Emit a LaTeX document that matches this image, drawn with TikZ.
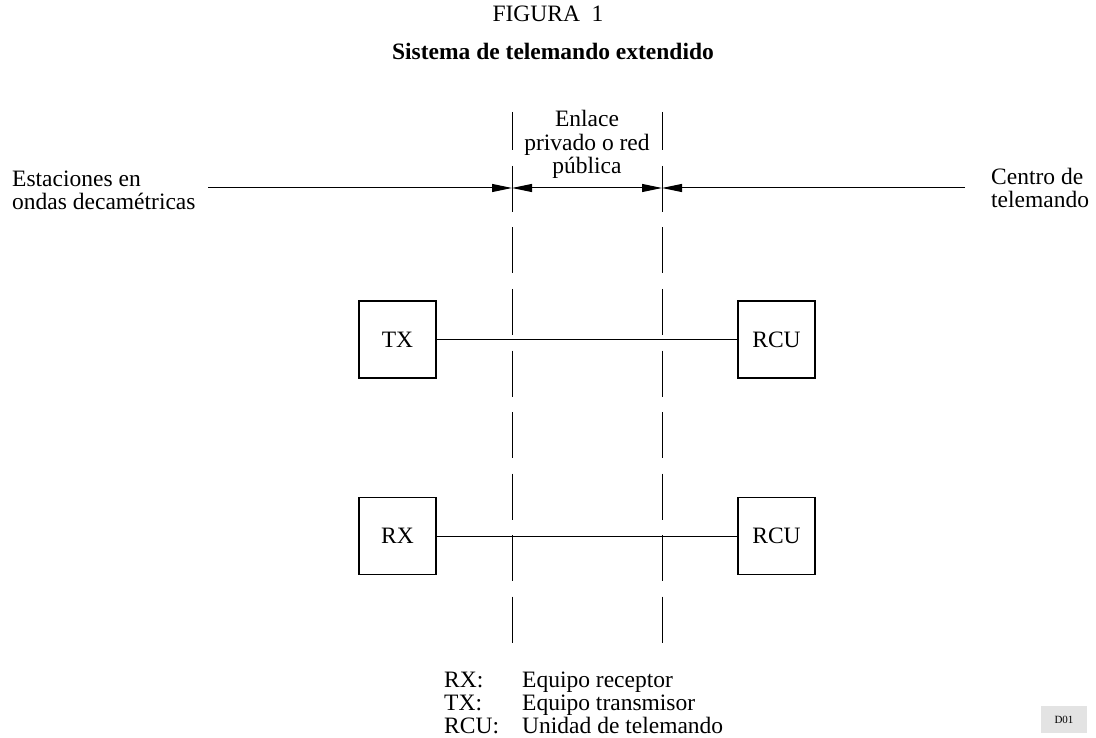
\documentclass[tikz,border=0pt]{standalone}
\usepackage{fontspec}
\setmainfont{Liberation Serif}
\usetikzlibrary{arrows.meta}
\begin{document}
\begin{tikzpicture}[x=1pt,y=-1pt,
  every node/.style={font=\fontsize{23.5}{23.5}\selectfont, inner sep=0pt},
  box/.style={draw, line width=1.3pt, minimum width=77pt, minimum height=77pt},
  link/.style={line width=1pt},
  bound/.style={line width=1pt, dash pattern=on 46pt off 15.5pt},
  tipr/.style={-{Triangle[length=20pt,width=8pt]}},
  tipb/.style={{Triangle[length=20pt,width=8pt]}-{Triangle[length=20pt,width=8pt]}}]
\useasboundingbox (0,0) rectangle (1096,738);

% titles
\node[anchor=base] (fig) at (548,22) {FIGURA\ \ 1};
\node[anchor=base, font=\fontsize{23.5}{23.5}\selectfont\bfseries] (title) at (553,60) {Sistema de telemando extendido};

% boundary lines
\foreach \n/\x in {l/512, r/662}{
  \coordinate (\n top) at (\x,112);
  \coordinate (\n a) at (\x,150);
  \coordinate (\n b) at (\x,166);
  \coordinate (\n bot) at (\x,643);
  \draw[line width=1pt] (\n top) -- (\n a);
  \draw[bound] (\n b) -- (\n bot);
}

% horizontal dimension line
\coordinate (hl) at (208,188);
\coordinate (hr) at (965,188);
\coordinate (ha) at (512,188);
\coordinate (hb) at (662,188);
\draw[link,tipr] (hl) -- (ha);
\draw[link,tipb] (ha) -- (hb);
\draw[link,tipr] (hr) -- (hb);

\node[anchor=base west, align=left] (est) at (12,210) {Estaciones en\\ondas decamétricas};
\node[anchor=base west, align=left] (cen) at (991,208) {Centro de\\telemando};
\node[anchor=base, align=center] (enl) at (587,174) {Enlace\\privado o red\\pública};

% boxes
\node[box] (tx) at (397.5,339.5) {TX};
\node[box] (rcu1) at (776.5,339.5) {RCU};
\node[box] (rx) at (397.5,536) {RX};
\node[box] (rcu2) at (776.5,536) {RCU};
\draw[link] (tx) -- (rcu1);
\draw[link] (rx) -- (rcu2);

% legend
\node[anchor=base west] (k1) at (444,687) {RX:};
\node[anchor=base west] (v1) at (522,687) {Equipo receptor};
\node[anchor=base west] (k2) at (444,710) {TX:};
\node[anchor=base west] (v2) at (522,710) {Equipo transmisor};
\node[anchor=base west] (k3) at (444,733) {RCU:};
\node[anchor=base west] (v3) at (522,733) {Unidad de telemando};

\node[fill=black!11, font=\fontsize{11}{11}\selectfont, minimum width=46pt, minimum height=27pt] (d01) at (1064,719.5) {D01};
\end{tikzpicture}
\end{document}
